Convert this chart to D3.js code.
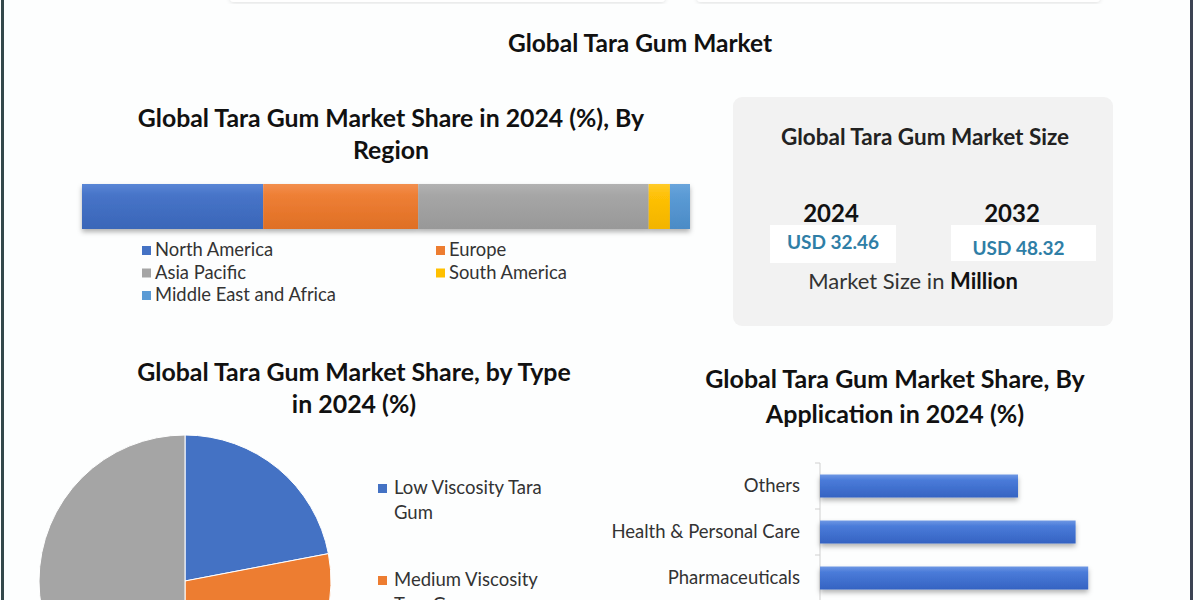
<!DOCTYPE html>
<html>
<head>
<meta charset="utf-8">
<script src="https://cdn.jsdelivr.net/npm/d3@7"></script>
<style>
  body { margin: 0; background: #fff; }
  svg text { font-family: Lato, "Open Sans", sans-serif; }
</style>
</head>
<body>
<div id="chart"></div>
<script>
// region share (stacked bar)
var regionNames = ["North America", "Europe", "Asia Pacific", "South America", "Middle East and Africa"];
var regionShare = [29.8, 25.5, 37.9, 3.5, 3.3];

// type share (pie)
var typeNames = ["Low Viscosity Tara Gum", "Medium Viscosity Tara Gum", "High Viscosity Tara Gum"];
var typeShare = [22, 28, 50];

// application share (horizontal bars), top to bottom
var appNames = ["Others", "Health & Personal Care", "Pharmaceuticals"];
var appShare = [22.0, 28.4, 29.8];

// market size
var sizeYears = ["2024", "2032"];
var sizeValues = [32.46, 48.32];

var officeColors = ["#4472c4", "#ed7d31", "#a5a5a5", "#ffc000", "#5b9bd5"];

var width = 1200, height = 600;

var svg = d3.select("#chart").append("svg")
    .attr("width", width)
    .attr("height", height);

var defs = svg.append("defs");

var shadow = defs.append("filter").attr("id", "shadow")
    .attr("x", "-5%").attr("y", "-20%").attr("width", "110%").attr("height", "160%");
shadow.append("feDropShadow")
    .attr("dx", 0).attr("dy", 3).attr("stdDeviation", 2.5)
    .attr("flood-color", "#000").attr("flood-opacity", 0.3);

var boxShadow = defs.append("filter").attr("id", "boxshadow")
    .attr("x", "-5%").attr("y", "-5%").attr("width", "110%").attr("height", "110%");
boxShadow.append("feDropShadow")
    .attr("dx", 0).attr("dy", 1).attr("stdDeviation", 2)
    .attr("flood-color", "#000").attr("flood-opacity", 0.12);

// vertical gradients giving the office-style shading on the bars
function makeGradient(id, top, mid, bottom) {
    var g = defs.append("linearGradient").attr("id", id)
        .attr("x1", 0).attr("y1", 0).attr("x2", 0).attr("y2", 1);
    g.append("stop").attr("offset", "0%").attr("stop-color", top);
    g.append("stop").attr("offset", "25%").attr("stop-color", mid);
    g.append("stop").attr("offset", "100%").attr("stop-color", bottom);
}
var shades = [
    ["#5a86d6", "#4774c8", "#3a66b8"],
    ["#f38f4e", "#ee7f35", "#df6f24"],
    ["#b2b2b2", "#a6a6a6", "#989898"],
    ["#ffcb2a", "#ffc107", "#f2b400"],
    ["#6aa5dc", "#5b9bd5", "#4b8bc6"]
];
shades.forEach(function (s, i) { makeGradient("grad" + i, s[0], s[1], s[2]); });
makeGradient("appGrad", "#6d97e4", "#4a7bd9", "#3563c2");

// page frame
svg.append("rect").attr("width", width).attr("height", height).attr("fill", "#fdfefe");
svg.append("rect").attr("x", 1).attr("y", 0).attr("width", 3).attr("height", height).attr("fill", "#34484b");
svg.append("rect").attr("x", 1190).attr("y", 0).attr("width", 3).attr("height", height).attr("fill", "#3b4252");

// bits of the boxes above, cut by the crop
[[230, 435], [697, 403]].forEach(function (b) {
    svg.append("rect").attr("x", b[0]).attr("y", -20).attr("width", b[1]).attr("height", 22)
        .attr("rx", 4).attr("fill", "#fff").attr("filter", "url(#boxshadow)");
});

svg.append("text")
    .attr("x", 640).attr("y", 52)
    .attr("text-anchor", "middle")
    .attr("font-size", 24.5).attr("font-weight", 700).attr("fill", "#111")
    .text("Global Tara Gum Market");

function title(lines, cx, y0, lh, size) {
    var t = svg.append("text")
        .attr("text-anchor", "middle")
        .attr("font-size", size).attr("font-weight", 700).attr("fill", "#111");
    lines.forEach(function (l, i) {
        t.append("tspan").attr("x", cx).attr("y", y0 + i * lh).text(l);
    });
}

// ---- region stacked bar ----
title(["Global Tara Gum Market Share in 2024 (%), By", "Region"], 391, 127, 32, 24.8);

var xReg = d3.scaleLinear()
    .domain([0, d3.sum(regionShare)])
    .range([82, 690]);

var cum = 0;
var regionData = regionShare.map(function (v, i) {
    var d = {name: regionNames[i], x0: cum, x1: cum + v, i: i};
    cum += v;
    return d;
});

var regG = svg.append("g").attr("filter", "url(#shadow)");
regG.selectAll("rect").data(regionData).enter().append("rect")
    .attr("x", function (d) { return xReg(d.x0); })
    .attr("width", function (d) { return xReg(d.x1) - xReg(d.x0); })
    .attr("y", 184)
    .attr("height", 45)
    .attr("fill", function (d) { return "url(#grad" + d.i + ")"; });

var legPos = [[142, 250], [436, 250], [142, 272.5], [436, 272.5], [142, 295]];
var regLeg = svg.append("g").selectAll("g").data(regionNames).enter().append("g")
    .attr("transform", function (d, i) { return "translate(" + legPos[i][0] + "," + legPos[i][1] + ")"; });
regLeg.append("rect").attr("x", 0).attr("y", -4).attr("width", 9).attr("height", 9)
    .attr("fill", function (d, i) { return officeColors[i]; });
regLeg.append("text").attr("x", 13).attr("y", 6)
    .attr("font-size", 18.4).attr("fill", "#333")
    .text(function (d) { return d; });

// ---- market size box ----
svg.append("rect").attr("x", 733).attr("y", 97).attr("width", 380).attr("height", 229)
    .attr("rx", 9).attr("fill", "#f2f2f2");

svg.append("text").attr("x", 925).attr("y", 145)
    .attr("text-anchor", "middle").attr("font-size", 22.5).attr("font-weight", 700).attr("fill", "#222")
    .text("Global Tara Gum Market Size");

var sizeX = d3.scalePoint().domain(sizeYears).range([831, 1012]);
var sizeBox = [[770, 225, 126, 38], [951, 225, 145, 36]];
var valY = [249, 255];

sizeYears.forEach(function (yr, i) {
    svg.append("rect").attr("x", sizeBox[i][0]).attr("y", sizeBox[i][1])
        .attr("width", sizeBox[i][2]).attr("height", sizeBox[i][3]).attr("fill", "#fff");
    svg.append("text").attr("x", sizeX(yr)).attr("y", 222)
        .attr("text-anchor", "middle").attr("font-size", 24).attr("font-weight", 700).attr("fill", "#111")
        .text(yr);
    svg.append("text").attr("x", sizeBox[i][0] + sizeBox[i][2] / 2 + (i ? -5 : 0)).attr("y", valY[i])
        .attr("text-anchor", "middle").attr("font-size", 19).attr("font-weight", 700).attr("fill", "#2f7ea6")
        .text("USD " + d3.format(".2f")(sizeValues[i]));
});

var ms = svg.append("text").attr("x", 913).attr("y", 289)
    .attr("text-anchor", "middle").attr("font-size", 22).attr("fill", "#333");
ms.append("tspan").text("Market Size in ");
ms.append("tspan").attr("font-weight", 700).attr("fill", "#111").text("Million");

// ---- type pie ----
title(["Global Tara Gum Market Share, by Type", "in 2024 (%)"], 354, 381, 32, 24.9);

var pie = d3.pie().sort(null).value(function (d) { return d; });
var arc = d3.arc().innerRadius(0).outerRadius(146);

svg.append("g").attr("transform", "translate(185,581)")
    .selectAll("path").data(pie(typeShare)).enter().append("path")
    .attr("d", arc)
    .attr("fill", function (d, i) { return officeColors[i]; })
    .attr("stroke", "#fff").attr("stroke-width", 1);

var typeLegend = [["Low Viscosity Tara", "Gum"], ["Medium Viscosity", "Tara Gum"], ["High Viscosity", "Tara Gum"]];
var typeLeg = svg.append("g").selectAll("g").data(typeLegend).enter().append("g")
    .attr("transform", function (d, i) { return "translate(378," + (488 + i * 92) + ")"; });
typeLeg.append("rect").attr("x", 0).attr("y", -4).attr("width", 9).attr("height", 9)
    .attr("fill", function (d, i) { return officeColors[i]; });
typeLeg.each(function (d) {
    var t = d3.select(this).append("text").attr("font-size", 18.5).attr("fill", "#333");
    d.forEach(function (l, j) {
        t.append("tspan").attr("x", 16).attr("y", 6 + j * 25).text(l);
    });
});

// ---- application bars ----
title(["Global Tara Gum Market Share, By", "Application in 2024 (%)"], 895, 388, 35, 25);

var yApp = d3.scaleBand()
    .domain(appNames)
    .range([463, 601])
    .paddingInner(0.5)
    .paddingOuter(0.25);

var xApp = d3.scaleLinear().domain([0, 10]).range([820, 910]);

var axisG = svg.append("g");
axisG.append("line").attr("x1", 820).attr("x2", 820).attr("y1", 463).attr("y2", 600)
    .attr("stroke", "#d0d0d0");
axisG.selectAll(".tick").data(appNames).enter().append("line")
    .attr("x1", 815).attr("x2", 820)
    .attr("y1", function (d, i) { return 463 + i * yApp.step(); })
    .attr("y2", function (d, i) { return 463 + i * yApp.step(); })
    .attr("stroke", "#d0d0d0");

svg.append("g").attr("filter", "url(#shadow)")
    .selectAll("rect").data(appShare).enter().append("rect")
    .attr("x", xApp(0))
    .attr("y", function (d, i) { return yApp(appNames[i]); })
    .attr("width", function (d) { return xApp(d) - xApp(0); })
    .attr("height", yApp.bandwidth())
    .attr("fill", "url(#appGrad)");

svg.append("g").selectAll("text").data(appNames).enter().append("text")
    .attr("x", 800)
    .attr("y", function (d) { return yApp(d) + yApp.bandwidth() / 2 + 6; })
    .attr("text-anchor", "end").attr("font-size", 18.5).attr("fill", "#333")
    .text(function (d) { return d; });
</script>
</body>
</html>
